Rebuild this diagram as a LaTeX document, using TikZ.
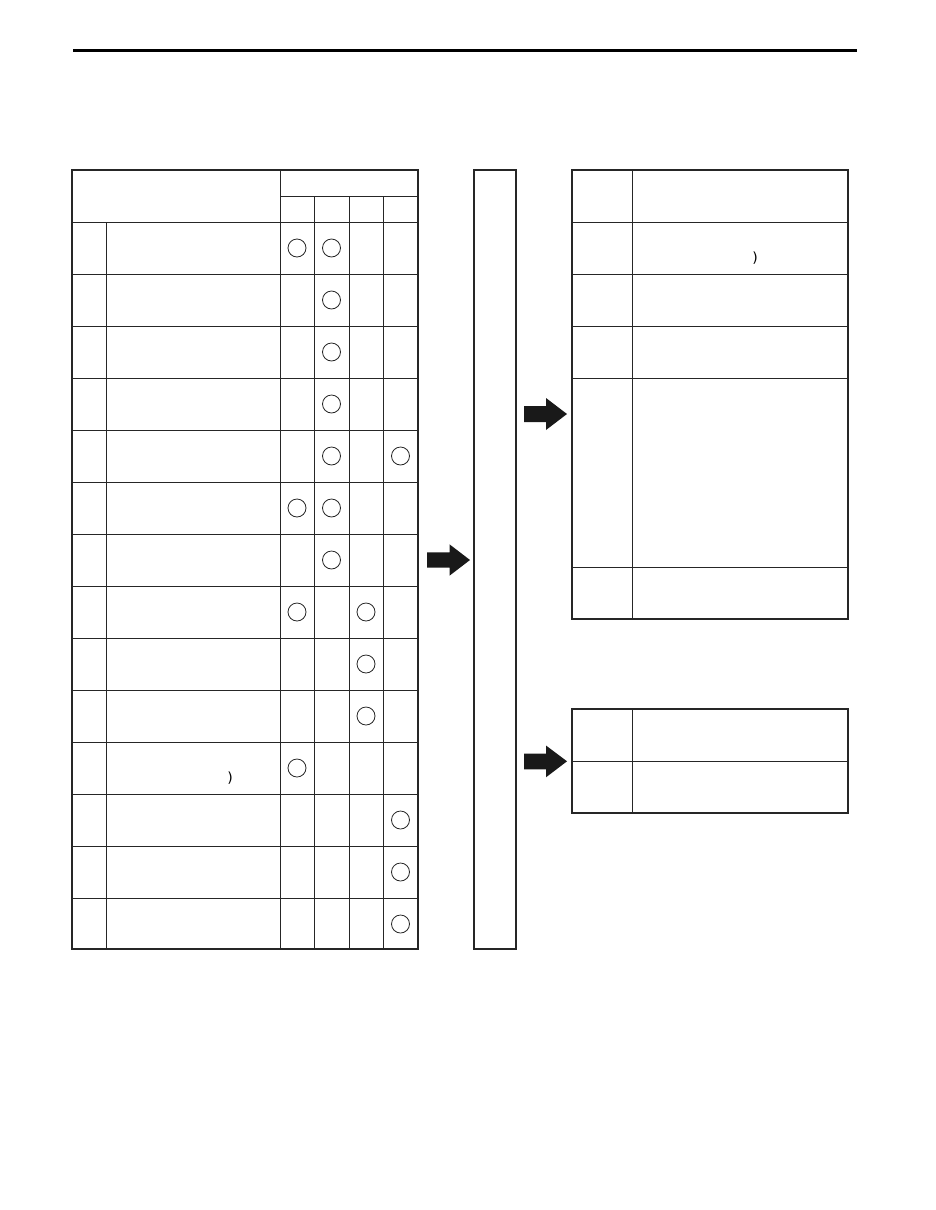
\documentclass[tikz,border=0pt]{standalone}
\usepackage{fontspec}
\setmainfont{DejaVu Sans}
\begin{document}
\begin{tikzpicture}[x=1pt,y=-1pt,
  outer/.style={line width=1.6pt,draw=black!85},
  inner/.style={line width=1pt,draw=black!85},
  mark circle/.style={circle,draw=black!85,line width=0.8pt,minimum size=18pt,inner sep=0pt},
  blockarrow/.style={fill=black!90,draw=none},
  paren/.style={inner sep=0pt,font=\fontsize{14}{16}\selectfont\mdseries}
]
\useasboundingbox (0,0) rectangle (935,1210);
% top rule
\draw[line width=2.6pt,black] (73,50.7) -- (857,50.7);

% ---------- left table ----------
\foreach \k in {0,...,13}{
  \draw[inner] (72,{222+52*\k}) -- (418,{222+52*\k});
}
\draw[inner] (280,196) -- (418,196);
\draw[inner] (280,170) -- (280,949);
\foreach \xx in {314,349,383}{
  \draw[inner] (\xx,196) -- (\xx,949);
}
\draw[inner] (106,222) -- (106,949);
\draw[outer] (72,170) rectangle (418,949);

% circles: column centres 297, 331.5, 366, 400.5
\def\cA{297}\def\cB{331.5}\def\cC{366}\def\cD{400.5}
\foreach \r/\c [count=\i] in {1/\cA,1/\cB,2/\cB,3/\cB,4/\cB,5/\cB,5/\cD,6/\cA,6/\cB,7/\cB,8/\cA,8/\cC,9/\cC,10/\cC,11/\cA,12/\cD,13/\cD,14/\cD}{
  \node[mark circle] (m\i) at (\c,{248+52*(\r-1)}) {};
}
\node[paren] (p1) at (230,778) {)};

% ---------- middle column ----------
\draw[outer] (474,170) rectangle (516,949);

% ---------- right table 1 ----------
\foreach \yy in {222,274,326,378,567}{
  \draw[inner] (572,\yy) -- (848,\yy);
}
\draw[inner] (632,170) -- (632,619);
\draw[outer] (572,170) rectangle (848,619);
\node[paren] (p2) at (755,258) {)};

% ---------- right table 2 ----------
\draw[inner] (572,761) -- (848,761);
\draw[inner] (632,709) -- (632,813);
\draw[outer] (572,709) rectangle (848,813);

% ---------- block arrows ----------
\fill[blockarrow] (427,552.3) -- (449.5,552.3) -- (449.5,544.3) -- (470,560) -- (449.5,575.7) -- (449.5,567.7) -- (427,567.7) -- cycle;
\fill[blockarrow] (524,406) -- (546,406) -- (546,398) -- (567,414) -- (546,430) -- (546,422) -- (524,422) -- cycle;
\fill[blockarrow] (524,753.5) -- (546,753.5) -- (546,745.5) -- (567,761.3) -- (546,777.3) -- (546,769.3) -- (524,769.3) -- cycle;
\end{tikzpicture}
\end{document}
